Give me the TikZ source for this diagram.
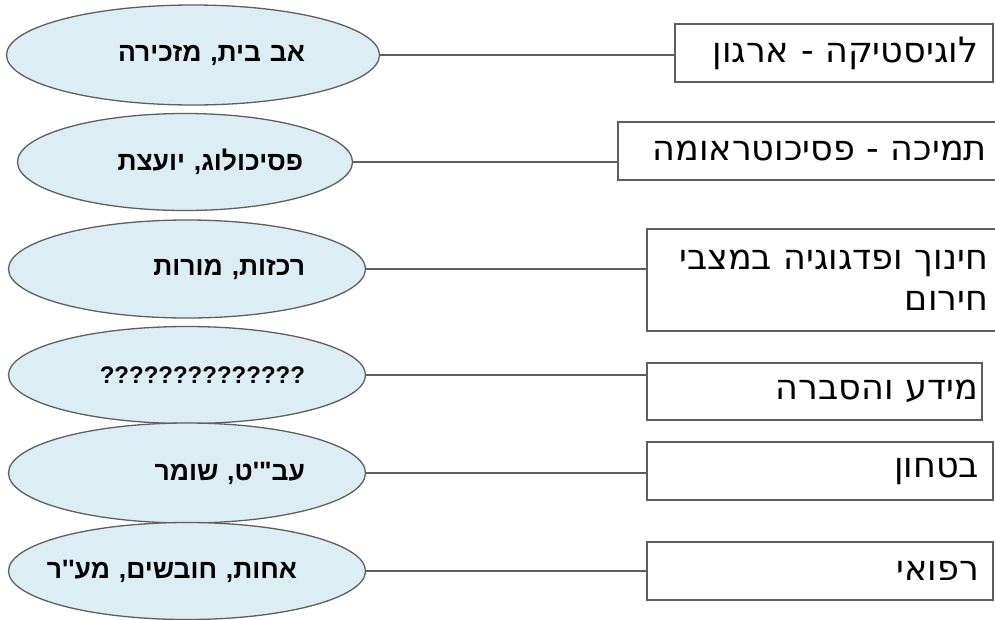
\documentclass[tikz,border=0pt]{standalone}
\usepackage{fontspec}
\usetikzlibrary{shapes.geometric}
\newfontfamily\boxfont[Script=Hebrew]{DejaVu Sans}
\newfontfamily\ovalfont[Script=Hebrew]{Liberation Sans}
\TeXXeTstate=1
\definecolor{ovalcolor}{RGB}{221,237,244}
\definecolor{edgecolor}{RGB}{95,95,95}

\begin{document}
\begin{tikzpicture}[x=1pt, y=-1pt,
    oval/.style={ellipse, draw=edgecolor, line width=1.3pt, fill=ovalcolor, inner sep=0pt, text width=236pt, align=right, font=\ovalfont\bfseries\fontsize{26.5}{30}\selectfont},
    role/.style={rectangle, draw=edgecolor, line width=1.3pt, fill=white, inner sep=0pt, align=right, font=\boxfont\fontsize{35}{41}\selectfont},
    link/.style={draw=edgecolor, line width=1.3pt}
]
    \useasboundingbox (0,0) rectangle (995,619);
    \clip (0,0) rectangle (995,619);

    % Staff ovals
    \node[oval, minimum width=373pt, minimum height=100pt] (e1) at (193,55) {\beginR אב בית, מזכירה\endR\kern6pt};
    \node[oval, minimum width=335pt, minimum height=97pt] (e2) at (185,162) {\beginR פסיכולוג, יועצת\endR};
    \node[oval, minimum width=357pt, minimum height=98pt] (e3) at (187,269) {\beginR רכזות, מורות\endR};
    \node[oval, minimum width=357pt, minimum height=97pt, font=\ovalfont\bfseries\fontsize{24}{28}\selectfont] (e4) at (187,375) {??????????????};
    \node[oval, minimum width=357pt, minimum height=100pt] (e5) at (187,473) {\beginR עב"'ט, שומר\endR};
    \node[oval, minimum width=357pt, minimum height=97pt, text width=304pt, inner xsep=-27pt] (e6) at (187,571) {\beginR אחות, חובשים, מע''ר\endR\kern42pt};

    % Task boxes
    \node[role, minimum width=318pt, minimum height=58pt, text width=288pt] (b1) at (834,53) {\beginR לוגיסטיקה - ארגון\endR};
    \node[role, minimum width=385pt, minimum height=58pt, text width=353pt] (b2) at (810.5,151) {\beginR תמיכה - פסיכוטראומה\endR};
    \node[role, minimum width=363pt, minimum height=102pt, text width=363pt] (b3) at (828.5,280) {\beginR חינוך ופדגוגיה במצבי\endR\kern22pt\\\beginR חירום\endR\kern22pt};
    \node[role, minimum width=335pt, minimum height=57pt, text width=327pt] (b4) at (814.5,391.5) {\beginR מידע והסברה\endR};
    \node[role, minimum width=346pt, minimum height=58pt, text width=318pt] (b5) at (820,471) {\beginR בטחון\endR};
    \node[role, minimum width=346pt, minimum height=58pt, text width=318pt] (b6) at (820,571) {\beginR רפואי\endR};

    % Links
    \foreach \i in {1,...,6}
        \draw[link] (e\i.east) -- (e\i.east -| b\i.west);
\end{tikzpicture}
\end{document}
